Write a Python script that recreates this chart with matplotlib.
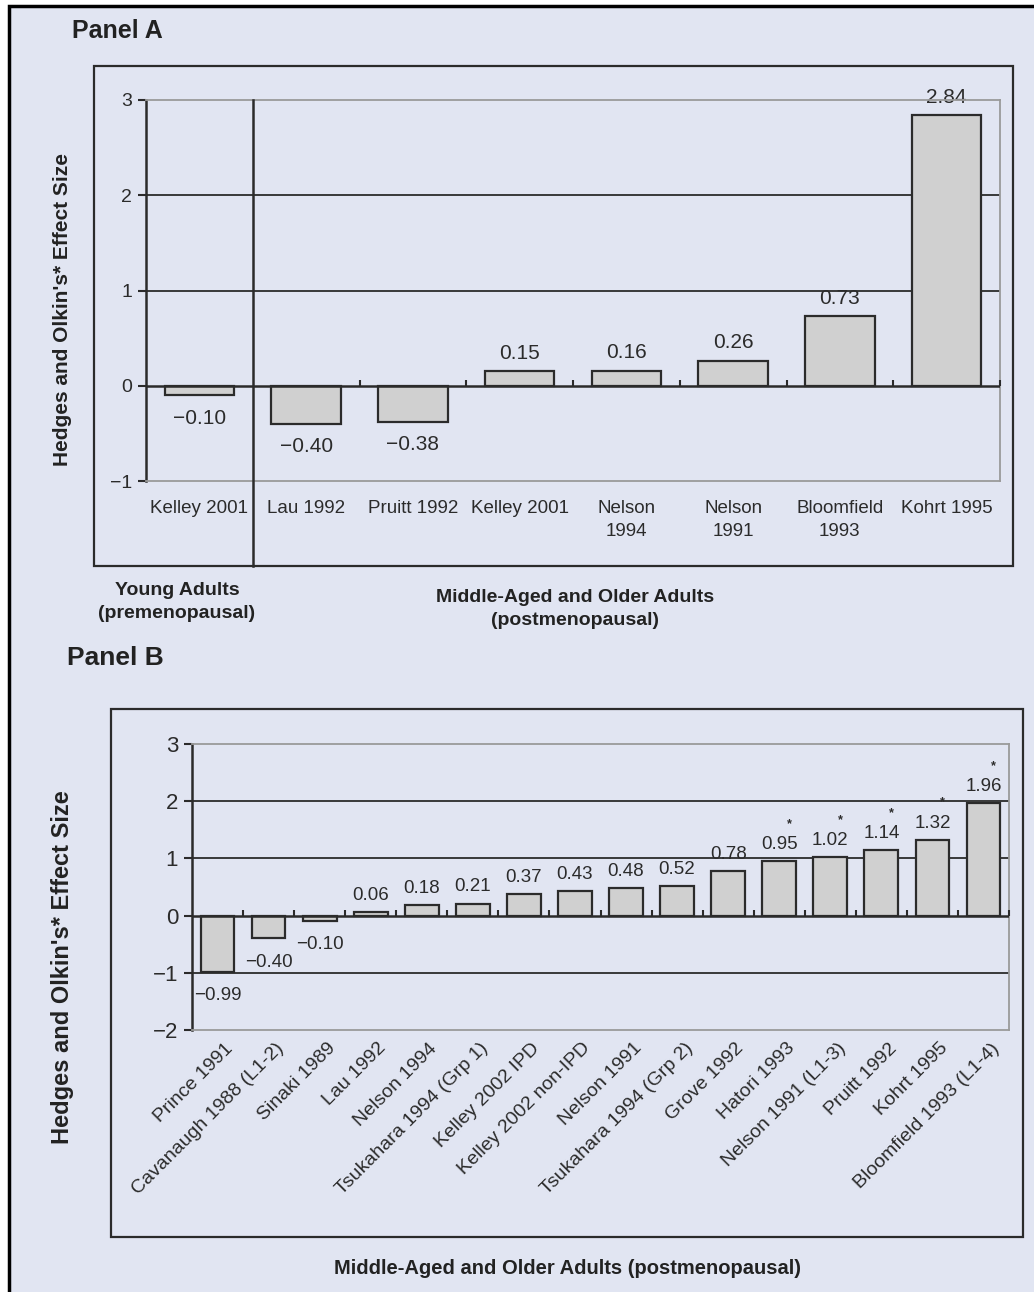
import matplotlib.pyplot as plt
import numpy as np
from matplotlib.patches import Rectangle
from matplotlib import transforms

# panel A: young vs middle-aged/older adults
studies_a = ["Kelley 2001", "Lau 1992", "Pruitt 1992", "Kelley 2001", "Nelson\n1994",
             "Nelson\n1991", "Bloomfield\n1993", "Kohrt 1995"]
effect_a = [-0.10, -0.40, -0.38, 0.15, 0.16, 0.26, 0.73, 2.84]

# panel B: middle-aged and older adults only
studies_b = ["Prince 1991", "Cavanaugh 1988 (L1-2)", "Sinaki 1989", "Lau 1992", "Nelson 1994",
             "Tsukahara 1994 (Grp 1)", "Kelley 2002 IPD", "Kelley 2002 non-IPD", "Nelson 1991",
             "Tsukahara 1994 (Grp 2)", "Grove 1992", "Hatori 1993", "Nelson 1991 (L1-3)",
             "Pruitt 1992", "Kohrt 1995", "Bloomfield 1993 (L1-4)"]
effect_b = [-0.99, -0.40, -0.10, 0.06, 0.18, 0.21, 0.37, 0.43, 0.48, 0.52, 0.78,
            0.95, 1.02, 1.14, 1.32, 1.96]
signif_b = [False] * 11 + [True] * 5

ylabel = "Hedges and Olkin's* Effect Size"

W, H = 1034, 1292
BG = '#e1e5f2'
INK = '#2b2b2b'
GRAY = '#9a9a9a'
BAR = '#d0d0d0'

plt.rcParams['font.family'] = ['Liberation Sans', 'DejaVu Sans']


def box(x0, y0, x1, y1):
    # pixel box (from top-left) -> figure fraction rect
    return [x0 / W, 1 - y1 / H, (x1 - x0) / W, (y1 - y0) / H]


def frame(fig, x0, y0, x1, y1, lw=1.6, face='none', edge=INK, z=1):
    r = Rectangle((x0 / W, 1 - y1 / H), (x1 - x0) / W, (y1 - y0) / H,
                  transform=fig.transFigure, facecolor=face, edgecolor=edge, lw=lw,
                  zorder=z)
    fig.patches.append(r)


def fmt(v):
    return f"{v:.2f}".replace('-', '\u2212')


def style(ax, lo, hi, labelsize):
    ax.set_facecolor('none')
    ax.set_ylim(lo, hi)
    for s in ['top', 'right', 'bottom']:
        ax.spines[s].set_color(GRAY)
        ax.spines[s].set_linewidth(1.3)
    ax.spines['left'].set_color(INK)
    ax.spines['left'].set_linewidth(1.8)
    ax.set_yticks(range(lo, hi + 1))
    ax.tick_params(axis='y', length=6, width=1.5, color=INK, labelcolor=INK,
                   labelsize=labelsize, pad=4)
    for g in range(lo + 1, hi):
        if g != 0:
            ax.axhline(g, color=INK, lw=1.3, zorder=1)
    ax.axhline(0, color=INK, lw=1.8, zorder=4)


fig = plt.figure(figsize=(W / 100, H / 100), dpi=100, facecolor='white')
# page background with black border on the left and top
frame(fig, 8.5, 5.5, 1045, 1310, lw=2.5, face=BG, edge='black', z=-10)

# ---------------- Panel A ----------------
frame(fig, 94, 66, 1013, 566)
fig.text(72 / W, 1 - 31 / H, "Panel A", fontsize=18, weight='bold', color='#222222',
         ha='left', va='center')

axA = fig.add_axes(box(146, 100, 1000, 481))
xa = np.arange(len(effect_a))
style(axA, -1, 3, 14)
axA.set_xlim(-0.5, len(effect_a) - 0.5)
axA.bar(xa, effect_a, width=0.65, color=BAR, edgecolor=INK, lw=1.6, zorder=3)
axA.vlines(np.arange(1.5, len(effect_a), 1), 0, 0.065, color=INK, lw=1.5, zorder=4,
           clip_on=False)
axA.set_xticks(xa)
axA.set_xticklabels(studies_a, fontsize=13.5, color=INK, linespacing=1.45)
axA.tick_params(axis='x', length=0, pad=14)
for i, v in enumerate(effect_a):
    off = 13 if v >= 0 else -16.5
    axA.annotate(fmt(v), (i, v), xytext=(0, off), textcoords='offset points',
                 ha='center', va='center', fontsize=15, color=INK, zorder=0.5)

# divider between young and older groups
tr = transforms.blended_transform_factory(axA.transData, fig.transFigure)
axA.plot([0.5, 0.5], [1 - 100 / H, 1 - 566 / H], transform=tr, color=INK, lw=1.8,
         clip_on=False, zorder=5)

fig.text(63 / W, 1 - 309 / H, ylabel, rotation=90, fontsize=15, weight='bold',
         color='#222222', ha='center', va='center')
fig.text(177 / W, 1 - 602 / H, "Young Adults\n(premenopausal)", fontsize=14,
         weight='bold', color='#222222', ha='center', va='center', linespacing=1.4)
fig.text(575 / W, 1 - 609 / H, "Middle-Aged and Older Adults\n(postmenopausal)",
         fontsize=14, weight='bold', color='#222222', ha='center', va='center',
         linespacing=1.4)

# ---------------- Panel B ----------------
frame(fig, 111, 709, 1023, 1237)
fig.text(67 / W, 1 - 658 / H, "Panel B", fontsize=19, weight='bold', color='#222222',
         ha='left', va='center')

axB = fig.add_axes(box(192, 744, 1009, 1030))
xb = np.arange(len(effect_b))
style(axB, -2, 3, 16)
axB.set_xlim(-0.5, len(effect_b) - 0.5)
axB.bar(xb, effect_b, width=0.66, color=BAR, edgecolor=INK, lw=1.6, zorder=3)
axB.vlines(np.arange(0.5, len(effect_b), 1), 0, 0.105, color=INK, lw=1.5, zorder=4,
           clip_on=False)
axB.set_xticks([])
for i, (lab, v, s) in enumerate(zip(studies_b, effect_b, signif_b)):
    axB.annotate(lab, (i, -2), xytext=(5, -7), textcoords='offset points', rotation=45,
                 rotation_mode='anchor', ha='right', va='top', fontsize=14, color=INK,
                 annotation_clip=False)
    off = 12 if v >= 0 else -17
    axB.annotate(fmt(v), (i, v), xytext=(0, off), textcoords='offset points',
                 ha='center', va='center', fontsize=13.5, color=INK, zorder=0.5)
    if s:
        axB.annotate('*', (i, v), xytext=(7, 27), textcoords='offset points',
                     ha='center', va='center', fontsize=9, weight='bold', color=INK)

fig.text(63 / W, 1 - 967 / H, ylabel, rotation=90, fontsize=17, weight='bold',
         color='#222222', ha='center', va='center')
fig.text(567 / W, 1 - 1268 / H, "Middle-Aged and Older Adults (postmenopausal)",
         fontsize=14.5, weight='bold', color='#222222', ha='center', va='center')

fig.savefig('out.png', dpi=100, facecolor='white')
